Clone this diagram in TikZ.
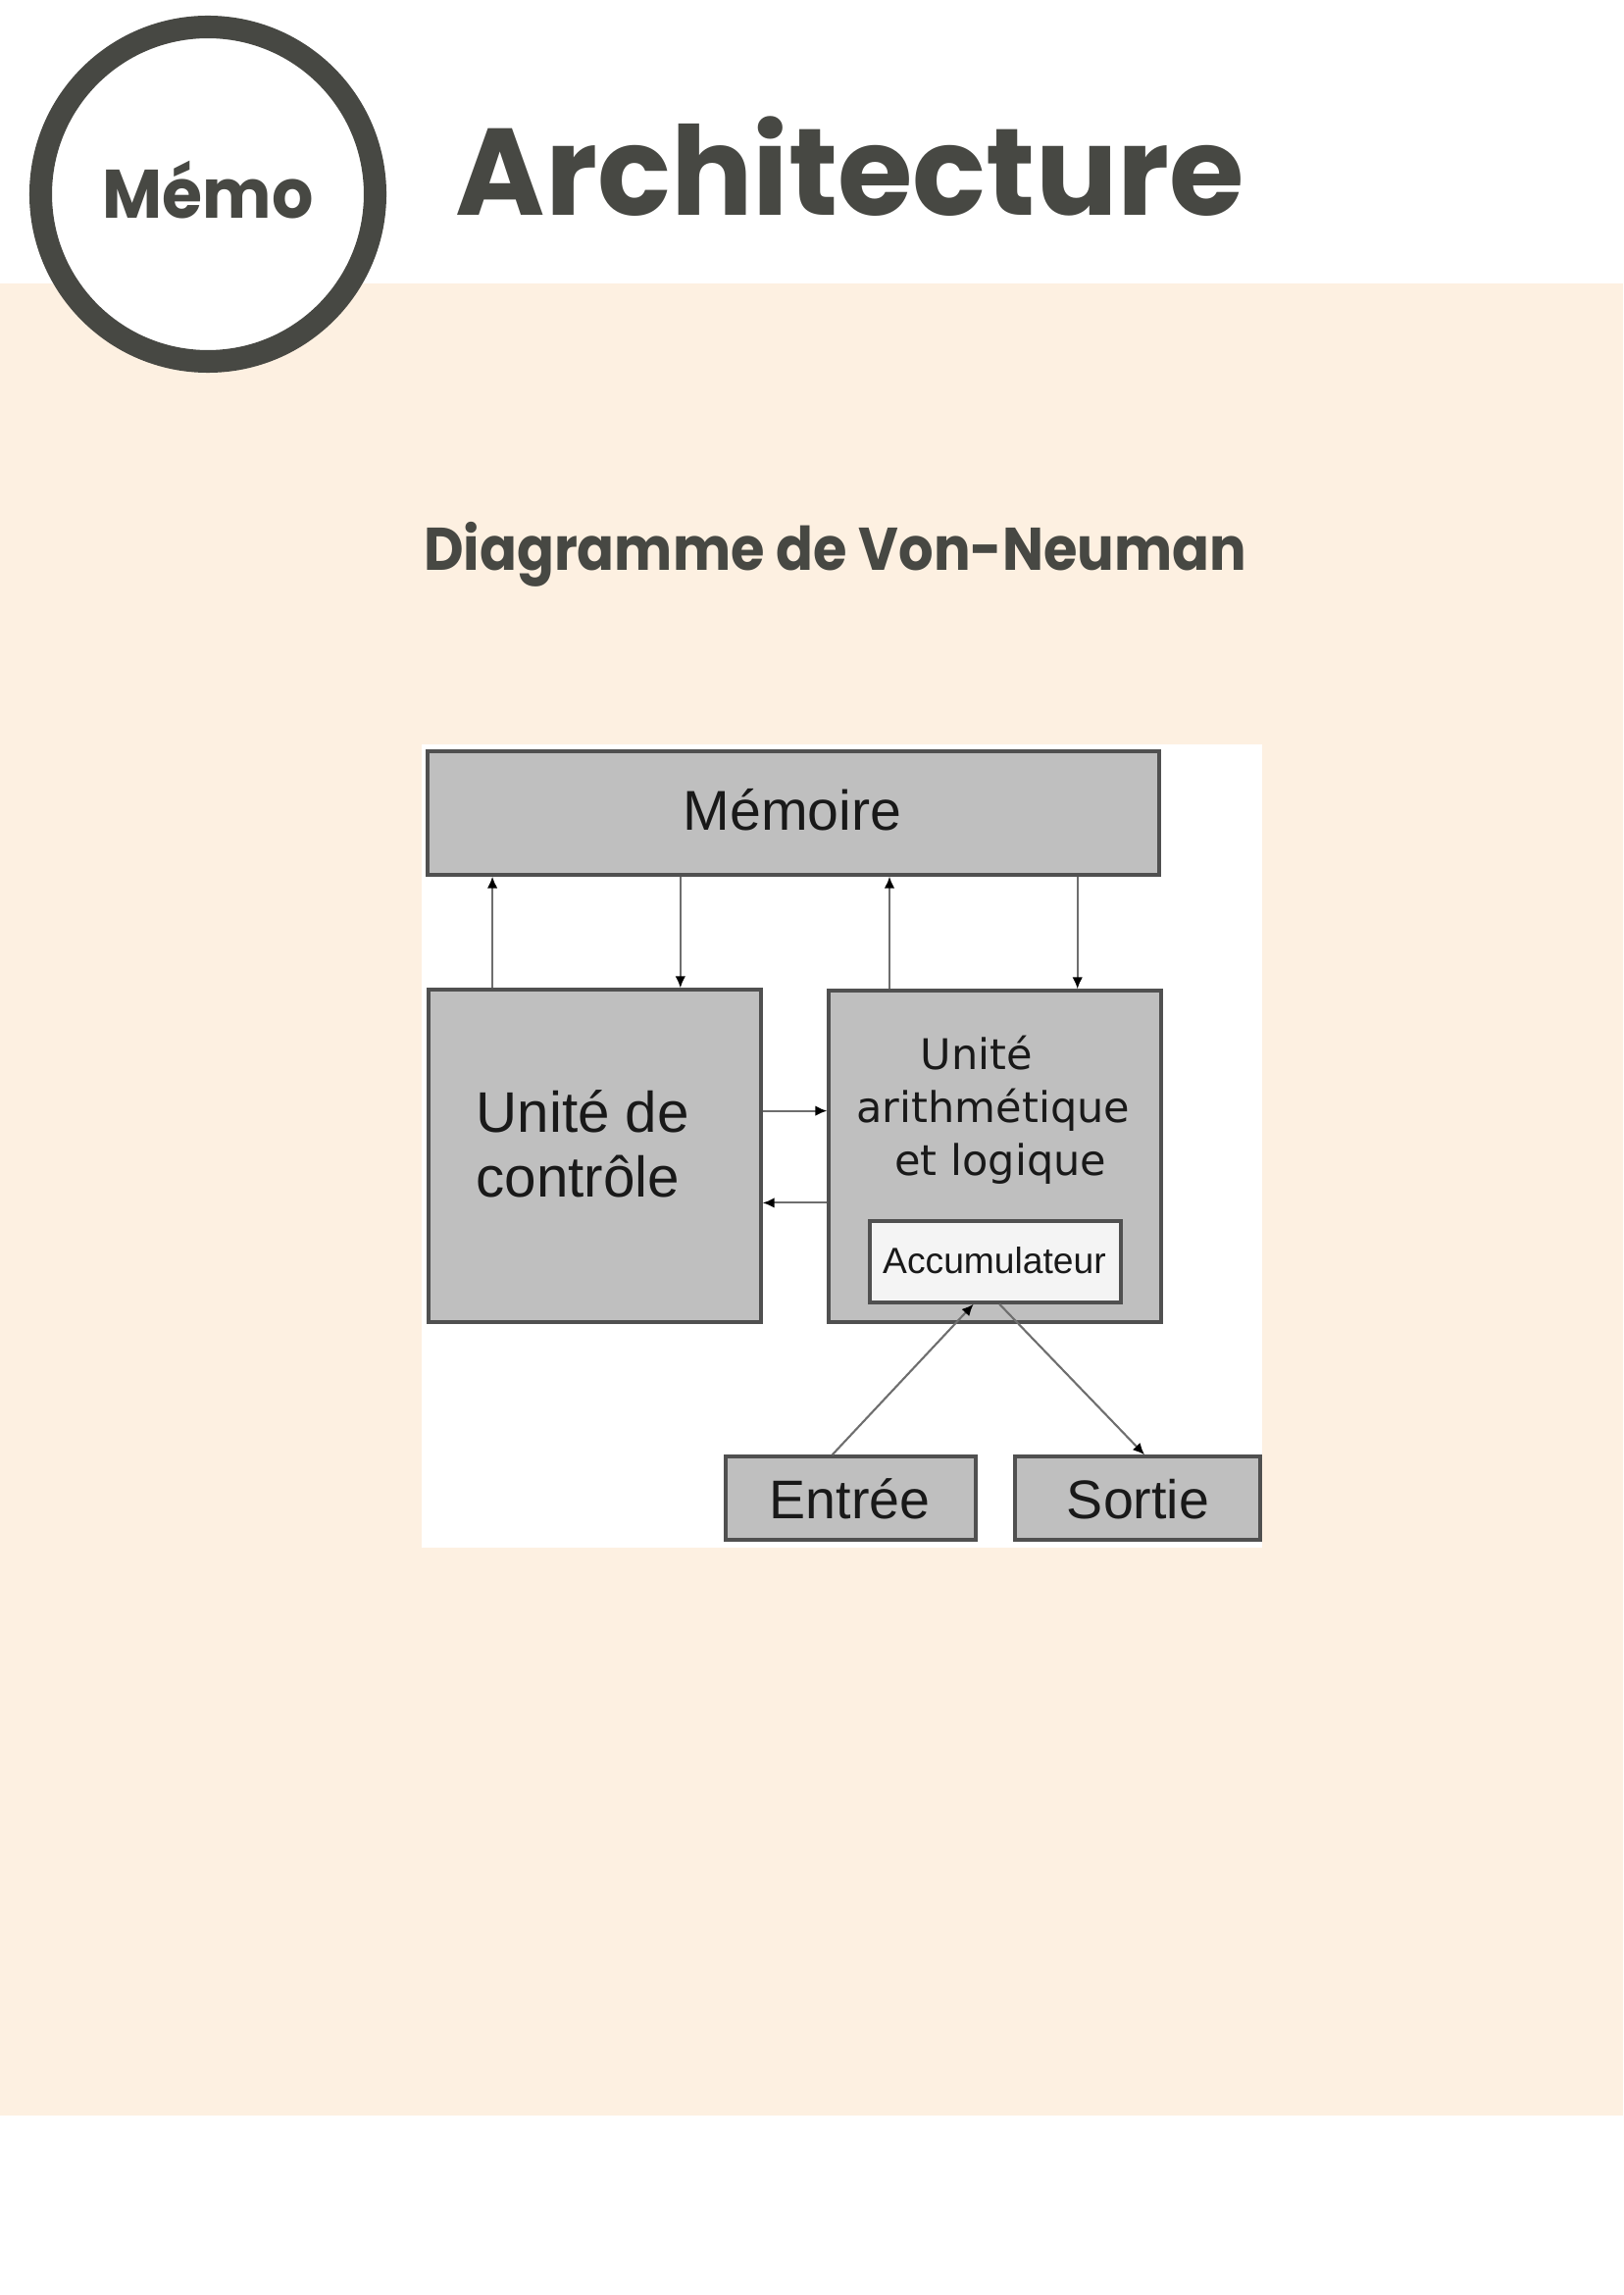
\documentclass[tikz,border=0pt]{standalone}
\usepackage{fontspec}
\usetikzlibrary{arrows.meta,calc}
\newfontfamily\popfont{Poppins}
\newfontfamily\libfont{Liberation Sans}
\newfontfamily\djfont{DejaVu Sans}
\definecolor{ink}{RGB}{71,72,67}
\definecolor{beige}{RGB}{253,240,225}
\definecolor{boxgray}{RGB}{191,191,191}
\definecolor{boxedge}{RGB}{80,80,80}
\definecolor{wiregray}{RGB}{110,110,110}
\definecolor{acclight}{RGB}{244,244,244}
\definecolor{txt}{RGB}{25,25,25}
\tikzset{
  box/.style={draw=boxedge, fill=boxgray, line width=1.2pt, inner sep=0pt, rectangle},
  accbox/.style={draw=boxedge, fill=acclight, line width=1.2pt, inner sep=0pt, rectangle},
  wire/.style={draw=wiregray, line width=0.75pt, -{Latex[length=4.3pt,width=3.8pt,color=black]}},
  lbl/.style={inner sep=0pt, text=txt},
  head/.style={inner sep=0pt, text=ink}
}
\begin{document}
\begin{tikzpicture}[x=0.36pt,y=-0.36pt]
\useasboundingbox (0,0) rectangle (1655,2340);
\fill[white] (0,0) rectangle (1655,2340);
\fill[beige] (0,289) rectangle (1655,2157);
% badge
\draw[ink, line width=8.3pt, fill=white] (212,198) circle [radius=61.38pt];
\node[head, anchor=base, font={\popfont\bfseries\fontsize{25.2pt}{30pt}\selectfont}] (memo) at (212,223) {\scalebox{0.95}[1]{Mémo}};
\node[head, anchor=base, font={\popfont\bfseries\fontsize{45.3pt}{54pt}\selectfont}] (title) at (867,220) {\scalebox{0.985}[1]{Architecture}};
\node[head, anchor=base, font={\popfont\bfseries\fontsize{22.1pt}{27pt}\selectfont}] (sub) at (851.5,581) {\scalebox{0.91}[1]{Diagramme de Von-Neuman}};
% diagram panel
\fill[white] (430,759) rectangle (1287,1578);
\node[box, minimum width=268.56pt, minimum height=45.36pt] (mem) at (809,829) {};
\node[box, minimum width=122.04pt, minimum height=122.04pt] (ctrl) at (606.5,1178.5) {};
\node[box, minimum width=122.04pt, minimum height=121.68pt] (alu) at (1014.5,1179) {};
\node[accbox, minimum width=92.16pt, minimum height=29.88pt] (acc) at (1015,1286.5) {};
\node[box, minimum width=91.8pt, minimum height=30.6pt] (ent) at (867.5,1527.5) {};
\node[box, minimum width=90pt, minimum height=30.6pt] (sor) at (1160,1527.5) {};
% labels
\node[lbl, anchor=base, font={\libfont\fontsize{20.6pt}{24pt}\selectfont}] (memtxt) at (808,846) {Mémoire};
\node[lbl, anchor=base west, font={\libfont\fontsize{21pt}{23.76pt}\selectfont}] (ctrltxt) at (485,1154) {\begin{tabular}[t]{@{}l@{}}Unité de\\contrôle\end{tabular}};
\node[lbl, anchor=base west, font={\djfont\fontsize{15.5pt}{19.44pt}\selectfont}] (alutxt) at (873,1090) {\begin{tabular}[t]{@{}l@{}}\hspace*{23.4pt}Unité\\arithmétique\\\hspace*{14pt}et logique\end{tabular}};
\node[lbl, anchor=base, font={\libfont\fontsize{13.4pt}{16pt}\selectfont}] (acctxt) at (1014,1298) {Accumulateur};
\node[lbl, anchor=base, font={\libfont\fontsize{20pt}{24pt}\selectfont}] (enttxt) at (866.5,1548) {Entrée};
\node[lbl, anchor=base, font={\libfont\fontsize{20pt}{24pt}\selectfont}] (sortxt) at (1160.5,1548) {Sortie};
% connectors
\coordinate (c1) at ($(ctrl.north west)!0.195!(ctrl.north east)$);
\coordinate (c2) at ($(ctrl.north west)!0.755!(ctrl.north east)$);
\coordinate (u1) at ($(alu.north west)!0.186!(alu.north east)$);
\coordinate (u2) at ($(alu.north west)!0.746!(alu.north east)$);
\draw[wire] (c1) -- (c1 |- mem.south);
\draw[wire] (c2 |- mem.south) -- (c2);
\draw[wire] (u1) -- (u1 |- mem.south);
\draw[wire] (u2 |- mem.south) -- (u2);
\coordinate (h1) at ($(ctrl.north east)!0.366!(ctrl.south east)$);
\coordinate (h2) at ($(ctrl.north east)!0.640!(ctrl.south east)$);
\draw[wire] (h1) -- (h1 -| alu.west);
\draw[wire] (h2 -| alu.west) -- (h2);
\coordinate (e1) at ($(ent.north west)!0.427!(ent.north east)$);
\coordinate (a1) at ($(acc.south west)!0.414!(acc.south east)$);
\coordinate (a2) at ($(acc.south west)!0.516!(acc.south east)$);
\coordinate (s1) at ($(sor.north west)!0.528!(sor.north east)$);
\draw[wire] (e1) -- (a1);
\draw[wire] (a2) -- (s1);
\end{tikzpicture}
\end{document}
